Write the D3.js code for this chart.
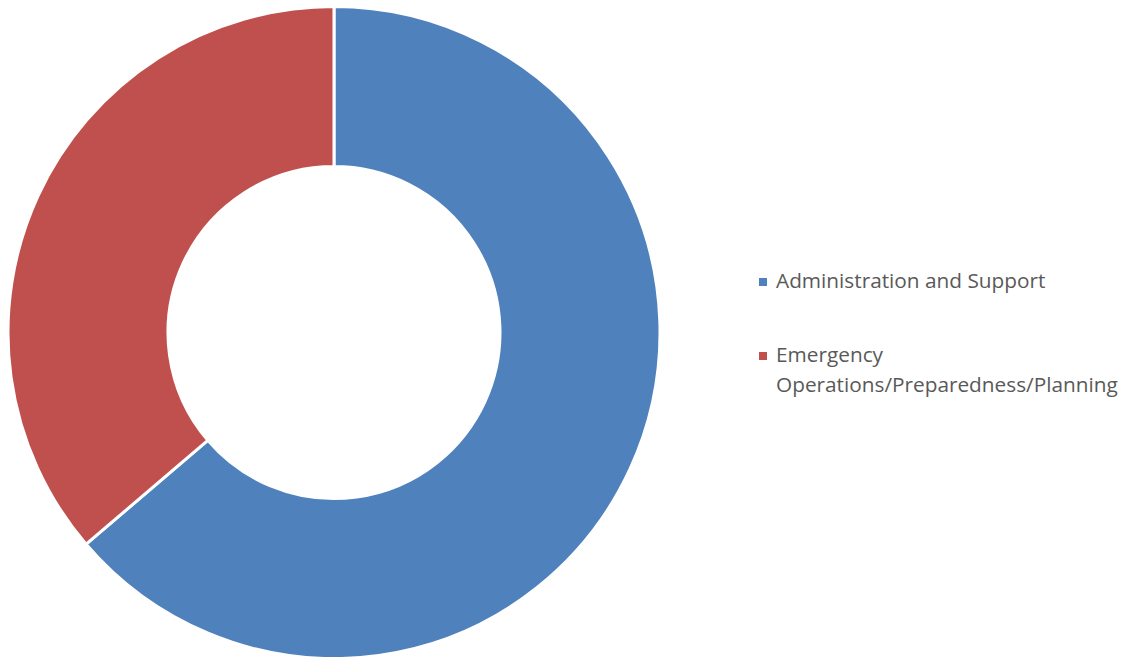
<!DOCTYPE html>
<html>
<head>
<meta charset="utf-8">
<script src="https://cdn.jsdelivr.net/npm/d3@7"></script>
<style>
  body { margin: 0; background: #fff; }
  svg { display: block; }
</style>
</head>
<body>
<div id="chart"></div>
<script>
// Data
const categories = ["Administration and Support", "Emergency Operations/Preparedness/Planning"];
const values = [63.75, 36.25];
const colors = ["#4F81BD", "#C0504D"];
const legendLines = [["Administration and Support"], ["Emergency", "Operations/Preparedness/Planning"]];

(function() {
const width = 1130, height = 657;
const cx = 334, cy = 332.5;
const outerR = 326, innerR = 166;

const svg = d3.select("#chart")
  .append("svg")
  .attr("width", width)
  .attr("height", height);

const data = categories.map((c, i) => ({ name: c, value: values[i], color: colors[i] }));

const pie = d3.pie().value(d => d.value).sort(null);
const arc = d3.arc().innerRadius(innerR).outerRadius(outerR);

// Donut slices
svg.append("g")
  .attr("transform", `translate(${cx},${cy})`)
  .selectAll("path")
  .data(pie(data))
  .enter()
  .append("path")
  .attr("d", arc)
  .attr("fill", d => d.data.color)
  .attr("stroke", "#fff")
  .attr("stroke-width", 3);

// Legend
const legendX = 763;
const legendY = [282, 356];
const legend = svg.append("g");

data.forEach((d, i) => {
  legend.append("rect")
    .attr("x", legendX - 4)
    .attr("y", legendY[i] - 4)
    .attr("width", 8)
    .attr("height", 8)
    .attr("fill", d.color);

  legendLines[i].forEach((line, j) => {
    legend.append("text")
      .attr("class", "legend-text")
      .attr("x", legendX + 13)
      .attr("y", legendY[i] + 6 + j * 30)
      .attr("fill", "#595959")
      .style("font-family", "'Open Sans', 'Noto Sans', sans-serif")
      .style("font-size", "20px")
      .text(line);
  });
});

// Fit font size so the longest line matches the reference width (~342px)
const texts = legend.selectAll(".legend-text");
let maxW = 0;
texts.each(function() { maxW = Math.max(maxW, this.getComputedTextLength()); });
const fs = 20 * 342 / maxW;
texts.style("font-size", fs + "px");
})();
</script>
</body>
</html>
